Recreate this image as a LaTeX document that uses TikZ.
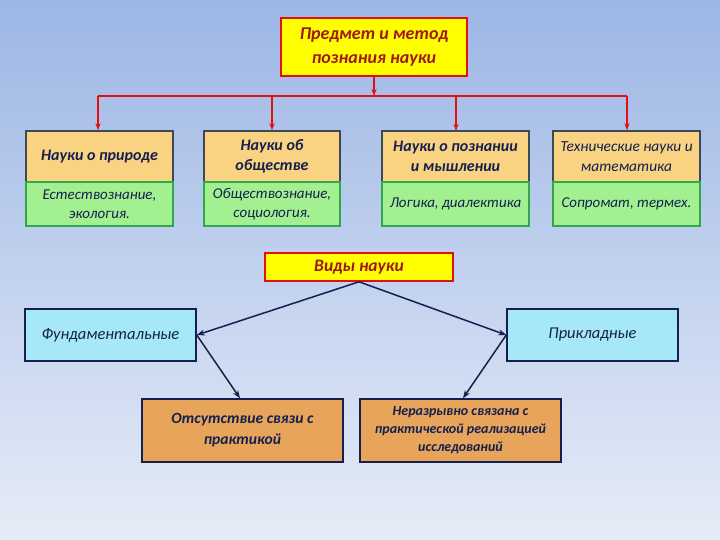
\documentclass[tikz,border=0pt]{standalone}
\usepackage{fontspec}
\setmainfont{Carlito}
\usetikzlibrary{arrows.meta}
\definecolor{bgtop}{HTML}{9DB6E5}
\definecolor{bgbot}{HTML}{E6ECF7}
\definecolor{ybox}{HTML}{FFFF00}
\definecolor{rline}{HTML}{E01010}
\definecolor{rtext}{HTML}{A01818}
\definecolor{obox}{HTML}{F9D282}
\definecolor{gbox}{HTML}{A2F090}
\definecolor{gline}{HTML}{2EA84A}
\definecolor{grayline}{HTML}{3C4A58}
\definecolor{navy}{HTML}{14204E}
\definecolor{cbox}{HTML}{A6E8F8}
\definecolor{brbox}{HTML}{E8A45A}
\tikzset{
  every node/.style={font=\itshape, align=center, inner sep=2pt},
  ybx/.style={draw=rline, fill=ybox, line width=1.6pt, text=rtext},
  obx/.style={draw=grayline, fill=obox, line width=1.5pt, text=navy, minimum height=51pt, font=\itshape\bfseries\fontsize{16}{20}\selectfont},
  gbx/.style={draw=gline, fill=gbox, line width=1.5pt, text=navy, minimum height=44pt, font=\itshape\fontsize{15}{19}\selectfont},
  cbx/.style={draw=navy, fill=cbox, line width=1.5pt, text=navy, minimum width=171pt, minimum height=52pt, font=\itshape\fontsize{16.5}{20}\selectfont},
  bbx/.style={draw=navy, fill=brbox, line width=1.5pt, text=navy, minimum width=201pt, minimum height=63pt},
  rarr/.style={draw=rline, line width=1.1pt, -{Stealth[length=7pt,width=5pt]}},
  narr/.style={draw=navy, line width=1.5pt, -{Stealth[length=8pt,width=6pt]}},
}
\begin{document}
\begin{tikzpicture}[x=1pt,y=-1pt]
\shade[top color=bgtop, bottom color=bgbot] (0,0) rectangle (720,540);
\useasboundingbox (0,0) rectangle (720,540);

\node[ybx, minimum width=186pt, minimum height=58pt, font=\itshape\bfseries\fontsize{18}{24}\selectfont] (top) at (374,47) {Предмет и метод\\познания науки};

\node[obx, minimum width=147pt] (a1) at (99.5,156.5) {Науки о природе};
\node[gbx, minimum width=147pt] (b1) at (99.5,204) {Естествознание,\\экология.};
\node[obx, minimum width=136pt] (a2) at (272,156.5) {Науки об\\обществе};
\node[gbx, minimum width=136pt] (b2) at (272,204) {Обществознание,\\социология.};
\node[obx, minimum width=147pt] (a3) at (455.5,156.5) {Науки о познании\\и мышлении};
\node[gbx, minimum width=147pt] (b3) at (455.5,204) {Логика, диалектика};
\node[obx, minimum width=147pt, font=\itshape\fontsize{15.4}{20}\selectfont] (a4) at (626.5,156.5) {Технические науки и\\математика};
\node[gbx, minimum width=147pt] (b4) at (626.5,204) {Сопромат, термех.};

\coordinate (hl) at (98,96);
\coordinate (hr) at (627,96);
\coordinate (hm) at (374,96);
\draw[rline, line width=1.1pt] (hl) -- (hr);
\draw[rarr] (top.south) -- (hm);
\draw[rarr] (hl) -- (a1.north -| hl);
\draw[rarr] (a2.north |- hl) -- (a2.north);
\draw[rarr] (456,96) -- (456,131);
\draw[rarr] (hr) -- (a4.north -| hr);

\node[ybx, minimum width=188pt, minimum height=28pt, font=\itshape\bfseries\fontsize{17.5}{20}\selectfont] (vid) at (359,267) {Виды науки};

\node[cbx] (fund) at (110.5,335) {Фундаментальные};
\node[cbx] (prik) at (592.5,335) {Прикладные};

\node[bbx, font=\itshape\bfseries\fontsize{15.6}{21}\selectfont] (c1) at (242.5,430.5) {Отсутствие связи с\\практикой};
\node[bbx, font=\itshape\bfseries\fontsize{14}{18}\selectfont] (c2) at (460.5,430.5) {Неразрывно связана с\\практической реализацией\\исследований};

\draw[narr] (vid.south) -- (fund.east);
\draw[narr] (vid.south) -- (prik.west);
\draw[narr] (fund.east) -- (c1.north -| 240,0);
\draw[narr] (prik.west) -- (c2.north -| 463,0);
\end{tikzpicture}
\end{document}
